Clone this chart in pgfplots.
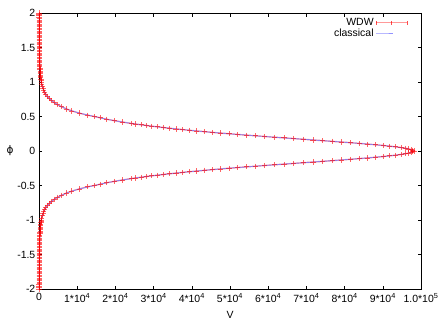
\documentclass[border=0pt]{standalone}
\usepackage{fontspec}
\setmainfont{Liberation Sans}
\newfontfamily\dejavu{DejaVu Sans}
\usepackage{pgfplots}
\pgfplotsset{compat=1.18}

\definecolor{wdw}{RGB}{255,0,0}
\definecolor{clas}{RGB}{110,110,255}

\begin{document}
\fontsize{10.5}{12}\selectfont
\begin{tikzpicture}
\begin{axis}[
    scale only axis,
    width=382bp, height=276bp,
    xmin=0, xmax=100000, ymin=-2, ymax=2,
    xtick={0,10000,20000,30000,40000,50000,60000,70000,80000,90000,100000},
    xticklabels={0, 1*10\textsuperscript{4}, 2*10\textsuperscript{4}, 3*10\textsuperscript{4}, 4*10\textsuperscript{4}, 5*10\textsuperscript{4}, 6*10\textsuperscript{4}, 7*10\textsuperscript{4}, 8*10\textsuperscript{4}, 9*10\textsuperscript{4}, 1.0*10\textsuperscript{5}},
    scaled x ticks=false,
    ytick={-2,-1.5,-1,-0.5,0,0.5,1,1.5,2},
    yticklabels={-2,-1.5,-1,-0.5,0,0.5,1,1.5,2},
    tick align=inside,
    major tick length=3.5bp,
    tick style={black, line width=0.6pt},
    axis line style={line width=0.8pt},
    xticklabel style={yshift=-1bp},
    xlabel={V},
    ylabel={\dejavu ϕ},
    xlabel style={at={(axis description cs:0.5,-0.094)}, anchor=center},
    ylabel style={at={(axis description cs:-0.076,0.5)}, anchor=center, rotate=-90},
    legend style={draw=none, fill=none, at={(axis description cs:1,1)}, anchor=north east,
        xshift=-10bp, yshift=-1bp, row sep=-2.5bp, font=\fontsize{10.5}{12}\selectfont},
    legend cell align=right,
    legend plot pos=right,
    clip=true,
]
% WDW
\addplot[wdw, draw opacity=0.35, line width=1.4pt, mark=+, mark size=2.6bp,
    mark options={draw opacity=0.6, line width=0.8pt},
    legend image code/.code={
        \draw[wdw, opacity=0.4, line width=1.2pt] (0bp,0bp) -- (31bp,0bp);
        \draw[wdw, opacity=0.7, line width=0.6pt] (0bp,-2bp) -- (0bp,2bp) (15.5bp,-2bp) -- (15.5bp,2bp) (31bp,-2bp) -- (31bp,2bp);
    }]
coordinates {
(20,2.0)(22,1.98)(24,1.96)(26,1.94)(28,1.92)(30,1.9)(32,1.88)(34,1.86)(36,1.84)(38,1.82)(40,1.8)(42,1.78)(45,1.76)(48,1.74)(51,1.72)(54,1.7)(58,1.68)(61,1.66)(65,1.64)(70,1.62)
(75,1.6)(80,1.58)(84,1.56)(90,1.54)(95,1.52)(100,1.5)(105,1.48)(110,1.46)(115,1.44)(122,1.42)(130,1.4)(139,1.38)(148,1.36)(158,1.34)(168,1.32)(179,1.3)(190,1.28)(204,1.26)(218,1.24)(234,1.22)
(250,1.2)(272,1.18)(295,1.16)(320,1.14)(350,1.12)(385,1.1)(420,1.08)(460,1.06)(500,1.04)(550,1.02)(600,1.0)(700,0.97)(870,0.94)(1040,0.91)(1250,0.88)
(1500,0.85)(1780,0.82)(2150,0.79)(2700,0.76)(3300,0.73)(4000,0.70)(4800,0.67)(5950,0.64)(7150,0.61)(8600,0.58)
(10500,0.55)(12600,0.52)(14480,0.50)(16100,0.48)(17760,0.46)(19700,0.44)(21800,0.42)(24110,0.40)(25360,0.39)(26760,0.38)
(28120,0.37)(29530,0.36)(31020,0.35)(32550,0.34)(34180,0.33)(35860,0.32)(37610,0.31)(39440,0.30)(41330,0.29)(43310,0.28)
(45360,0.27)(47510,0.26)(49720,0.25)(51990,0.24)(54300,0.23)(56720,0.22)(59100,0.21)(61600,0.20)(64140,0.19)(66650,0.18)
(69180,0.17)(71720,0.16)(74250,0.15)(76730,0.14)(79190,0.13)(81590,0.12)(83910,0.11)(86090,0.10)(88160,0.09)(90090,0.08)
(91850,0.07)(93410,0.06)(94780,0.05)(95920,0.04)(96820,0.03)(97470,0.02)(97870,0.01)(98300,0.0)
(97870,-0.01)(97470,-0.02)(96820,-0.03)(95920,-0.04)(94780,-0.05)(93410,-0.06)(91850,-0.07)
(90090,-0.08)(88160,-0.09)(86090,-0.10)(83910,-0.11)(81590,-0.12)(79190,-0.13)(76730,-0.14)(74250,-0.15)(71720,-0.16)(69180,-0.17)
(66650,-0.18)(64140,-0.19)(61600,-0.20)(59100,-0.21)(56720,-0.22)(54300,-0.23)(51990,-0.24)(49720,-0.25)(47510,-0.26)(45360,-0.27)
(43310,-0.28)(41330,-0.29)(39440,-0.30)(37610,-0.31)(35860,-0.32)(34180,-0.33)(32550,-0.34)(31020,-0.35)(29530,-0.36)(28120,-0.37)
(26760,-0.38)(25360,-0.39)(24110,-0.40)(21800,-0.42)(19700,-0.44)(17760,-0.46)(16100,-0.48)(14480,-0.50)(12600,-0.52)(10500,-0.55)
(8600,-0.58)(7150,-0.61)(5950,-0.64)(4800,-0.67)(4000,-0.70)(3300,-0.73)(2700,-0.76)(2150,-0.79)(1780,-0.82)(1500,-0.85)
(1250,-0.88)(1040,-0.91)(870,-0.94)(700,-0.97)(600,-1.0)(550,-1.02)(500,-1.04)(460,-1.06)(420,-1.08)(385,-1.1)(350,-1.12)(320,-1.14)(295,-1.16)(272,-1.18)(250,-1.2)
(234,-1.22)(218,-1.24)(204,-1.26)(190,-1.28)(179,-1.3)(168,-1.32)(158,-1.34)(148,-1.36)(139,-1.38)(130,-1.4)(122,-1.42)(115,-1.44)(110,-1.46)(105,-1.48)(100,-1.5)(95,-1.52)(90,-1.54)(84,-1.56)(80,-1.58)(75,-1.6)
(70,-1.62)(65,-1.64)(61,-1.66)(58,-1.68)(54,-1.7)(51,-1.72)(48,-1.74)(45,-1.76)(42,-1.78)(40,-1.8)(38,-1.82)(36,-1.84)(34,-1.86)(32,-1.88)(30,-1.9)(28,-1.92)(26,-1.94)(24,-1.96)(22,-1.98)(20,-2.0)
};
\addlegendentry{WDW}
% classical
\addplot[clas, draw opacity=0.75, line width=0.9pt, no markers]
coordinates {
(20,2)(30,1.9)(40,1.8)(55,1.7)(75,1.6)(100,1.5)(130,1.4)(180,1.3)(250,1.2)(380,1.1)
(600,1.0)(820,0.95)(1100,0.9)(1500,0.85)(2050,0.8)(2900,0.75)(4000,0.7)(5600,0.65)(7600,0.6)(10500,0.55)
(14480,0.5)(17760,0.46)(20720,0.43)(24110,0.4)(26760,0.38)(29530,0.36)(32550,0.34)(35860,0.32)(39440,0.3)(43310,0.28)
(47510,0.26)(51990,0.24)(56720,0.22)(61600,0.2)(66650,0.18)(71720,0.16)(76730,0.14)(81590,0.12)(86090,0.1)(90090,0.08)
(93410,0.06)(95920,0.04)(97470,0.02)(98000,0)
(97470,-0.02)(95920,-0.04)(93410,-0.06)(90090,-0.08)(86090,-0.1)(81590,-0.12)(76730,-0.14)(71720,-0.16)(66650,-0.18)
(61600,-0.2)(56720,-0.22)(51990,-0.24)(47510,-0.26)(43310,-0.28)(39440,-0.3)(35860,-0.32)(32550,-0.34)(29530,-0.36)(26760,-0.38)
(24110,-0.4)(20720,-0.43)(17760,-0.46)(14480,-0.5)(10500,-0.55)(7600,-0.6)(5600,-0.65)(4000,-0.7)(2900,-0.75)(2050,-0.8)
(1500,-0.85)(1100,-0.9)(820,-0.95)(600,-1.0)(380,-1.1)(250,-1.2)(180,-1.3)(130,-1.4)(100,-1.5)(75,-1.6)
(55,-1.7)(40,-1.8)(30,-1.9)(20,-2)
};
\addlegendentry{classical}
\end{axis}
\pgfresetboundingbox
\path (-39bp,-36bp) rectangle (404bp,289bp);
\end{tikzpicture}
\end{document}
